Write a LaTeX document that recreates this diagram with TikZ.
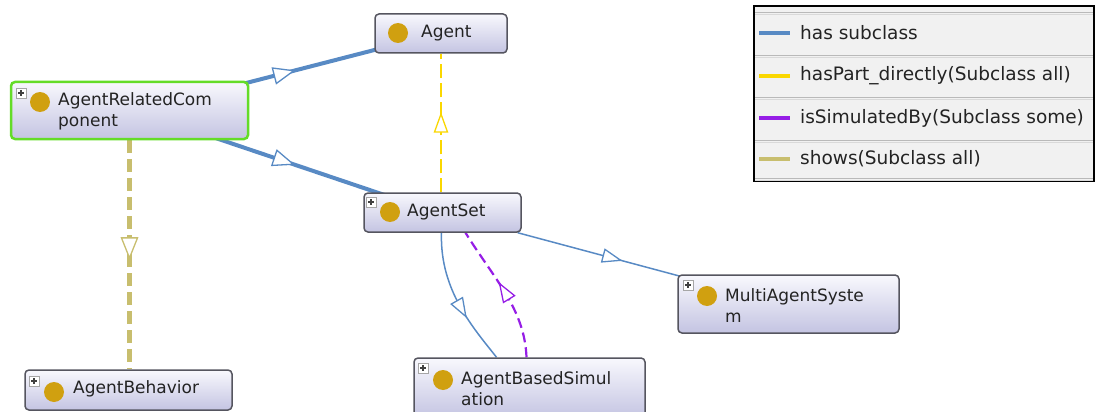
\documentclass[tikz,border=0pt]{standalone}
\usepackage{fontspec}
\setmainfont{DejaVu Sans}
\usetikzlibrary{calc,decorations.markings}
\pgfdeclarelayer{background}
\pgfsetlayers{background,main}

\definecolor{subblue}{RGB}{88,138,196}
\definecolor{partyellow}{RGB}{250,215,0}
\definecolor{simpurple}{RGB}{150,30,230}
\definecolor{showolive}{RGB}{200,190,110}
\definecolor{classgold}{RGB}{208,160,16}
\definecolor{boxtop}{RGB}{248,248,253}
\definecolor{boxbot}{RGB}{196,196,226}
\definecolor{boxline}{RGB}{85,85,95}
\definecolor{selgreen}{RGB}{100,220,40}
\definecolor{txt}{RGB}{35,35,35}
\definecolor{legbg}{RGB}{241,241,241}

\tikzset{
  classbox/.style={draw=boxline, line width=1.5pt, rounded corners=4pt,
    top color=boxtop, bottom color=boxbot, inner sep=0pt},
  selected/.style={draw=selgreen, line width=2.5pt},
  plusicon/.style={draw=gray!70, fill=white, line width=0.8pt, minimum size=10pt,
    inner sep=0pt,
    path picture={\draw[black!75, line width=1.1pt]
      ([xshift=2pt]path picture bounding box.west) -- ([xshift=-2pt]path picture bounding box.east)
      ([yshift=-2pt]path picture bounding box.north) -- ([yshift=2pt]path picture bounding box.south);}},
  classdot/.style={circle, fill=classgold, minimum size=20pt, inner sep=0pt},
  lbl/.style={font=\fontsize{17}{21}\selectfont, text=txt, inner sep=0pt, align=left, anchor=west},
  leglbl/.style={font=\fontsize{18.5}{22}\selectfont, text=txt, inner sep=0pt, anchor=west},
  opentri/.style 2 args={postaction={decorate, decoration={markings,
    mark=at position #1 with {\draw[#2, solid, line width=1.3pt, fill=white, line join=miter]
      (-10pt,-8pt) -- (10pt,0pt) -- (-10pt,8pt) -- cycle;}}}},
  opentrismall/.style 2 args={postaction={decorate, decoration={markings,
    mark=at position #1 with {\draw[#2, solid, line width=1.3pt, fill=white, line join=miter]
      (-9pt,-6.5pt) -- (9pt,0pt) -- (-9pt,6.5pt) -- cycle;}}}},
  subthick/.style={draw=subblue, line width=4pt},
  subthin/.style={draw=subblue, line width=1.5pt},
  haspart/.style={draw=partyellow, line width=2.2pt, dash pattern=on 14pt off 5pt},
  shows/.style={draw=showolive, line width=4.5pt, dash pattern=on 13pt off 6pt},
  simby/.style={draw=simpurple, line width=2.2pt, dash pattern=on 10pt off 5pt},
}

\begin{document}
\begin{tikzpicture}[x=1pt,y=-1pt]
\clip (0,0) rectangle (1098,412);

% class boxes
\node[classbox, minimum width=132, minimum height=39] (agent) at (441,33.5) {};
\node[classbox, selected, minimum width=237, minimum height=57] (arc) at (129.5,110.5) {};
\node[classbox, minimum width=157, minimum height=39] (aset) at (442.5,212.5) {};
\node[classbox, minimum width=221, minimum height=58] (mas) at (788.5,304) {};
\node[classbox, minimum width=207, minimum height=40] (abeh) at (128.5,390) {};
\node[classbox, minimum width=231, minimum height=60] (abs) at (529.5,388) {};

% expand icons
\node[plusicon] (arcP) at (21,93) {};
\node[plusicon] (asetP) at (371,202) {};
\node[plusicon] (absP) at (423,368) {};
\node[plusicon] (masP) at (688,285) {};
\node[plusicon] (abehP) at (34,381) {};

% class markers
\node[classdot] (agentD) at (398,33) {};
\node[classdot] (arcD) at (40,102) {};
\node[classdot] (asetD) at (390,212) {};
\node[classdot] (absD) at (443,380) {};
\node[classdot] (masD) at (707,296) {};
\node[classdot] (abehD) at (54,392) {};

% class names
\node[lbl] (agentT) at (421,33) {Agent};
\node[lbl] (arcT) at (58,111) {AgentRelatedCom\\ponent};
\node[lbl] (asetT) at (407,212) {AgentSet};
\node[lbl] (absT) at (461,389) {AgentBasedSimul\\ation};
\node[lbl] (masT) at (725,306) {MultiAgentSyste\\m};
\node[lbl] (abehT) at (73,389) {AgentBehavior};

% relations, drawn beneath the boxes
\begin{pgfonlayer}{background}
  \draw[subthick, opentri={0.3}{subblue}]
    ($(arc.north east)+(-6,3)$) -- ($(agent.south west)+(5,-5)$);
  \draw[subthick, opentri={0.4}{subblue}]
    ($(arc.south east)+(-33,-2)$) -- ($(aset.north west)+(22,3)$);
  \draw[haspart, opentrismall={0.5}{partyellow}]
    (agent.south |- aset.north) -- (agent.south);
  \draw[shows, opentri={0.47}{showolive}]
    (arc.south) -- (arc.south |- abeh.north);
  \draw[subthin, opentrismall={0.58}{subblue}]
    ($(aset.south east)+(-4,0)$) -- ($(mas.north west)+(3,2)$);
  \draw[subthin, opentrismall={0.57}{subblue}]
    ($(aset.south)+(-1,0)$) .. controls ($(aset.south)+(-3,58)$) and ($(abs.north)+(-55,-28)$) .. ($(abs.north)+(-33,0)$);
  \draw[simby, opentrismall={0.5}{simpurple}]
    ($(abs.north)+(-3,0)$) .. controls ($(abs.north)+(-5,-48)$) and ($(aset.south)+(53,48)$) .. ($(aset.south)+(23,0)$);
\end{pgfonlayer}

% legend
\draw[black, line width=1.5pt, fill=legbg] (754,6) rectangle (1094,181);
\foreach \yy in {12,55,97,140,178}{
  \draw[gray!55, line width=0.9pt] (755,\yy) -- (1093,\yy);
  \draw[gray!30, line width=0.9pt] (755,\yy+2.2) -- (1093,\yy+2.2);
}
\node[leglbl] (legSub) at (800,33) {has subclass};
\node[leglbl] (legPart) at (800,76) {hasPart\_directly(Subclass all)};
\node[leglbl] (legSim) at (800,118) {isSimulatedBy(Subclass some)};
\node[leglbl] (legShow) at (800,159) {shows(Subclass all)};
\draw[subblue, line width=4pt] ($(legSub.west)+(-41,0)$) -- ($(legSub.west)+(-10,0)$);
\draw[partyellow, line width=4pt] ($(legPart.west)+(-41,0)$) -- ($(legPart.west)+(-10,0)$);
\draw[simpurple, line width=4pt] ($(legSim.west)+(-41,0)$) -- ($(legSim.west)+(-10,0)$);
\draw[showolive, line width=4pt] ($(legShow.west)+(-41,0)$) -- ($(legShow.west)+(-10,0)$);
\end{tikzpicture}
\end{document}
